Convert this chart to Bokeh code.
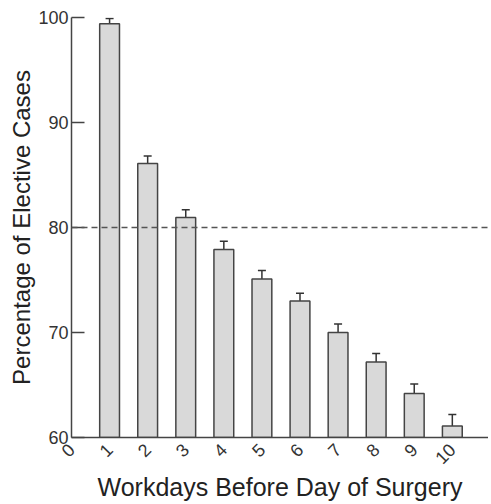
from bokeh.plotting import figure
from bokeh.models import ColumnDataSource, Range1d, FixedTicker, Span, Whisker, TeeHead
from bokeh.embed import file_html
from bokeh.resources import INLINE
import math

days = [1, 2, 3, 4, 5, 6, 7, 8, 9, 10]
pct = [99.4, 86.1, 80.95, 77.9, 75.1, 73.0, 70.0, 67.2, 64.2, 61.1]
err = [0.5, 0.7, 0.75, 0.8, 0.8, 0.75, 0.8, 0.8, 0.9, 1.1]
threshold = 80
x_ticks = [0, 1, 2, 3, 4, 5, 6, 7, 8, 9, 10]
y_ticks = [60, 70, 80, 90, 100]

src = ColumnDataSource(dict(x=days, top=pct, upper=[p + e for p, e in zip(pct, err)]))

p = figure(width=488, height=503, output_backend="svg", toolbar_location=None,
           x_range=Range1d(0, 10.95), y_range=Range1d(60, 100),
           min_border_left=71, min_border_right=0, min_border_top=17, min_border_bottom=10)
p.outline_line_color = None
p.xgrid.visible = False
p.ygrid.visible = False

p.vbar(x="x", top="top", bottom=60, width=0.52, source=src,
       fill_color="#d9d9d9", line_color="#444444", line_width=1.5)

w = Whisker(source=src, base="x", lower="top", upper="upper", dimension="height",
            line_color="#333333", line_width=1.5,
            upper_head=TeeHead(size=8, line_color="#333333", line_width=1.5), lower_head=None)
p.add_layout(w)

p.add_layout(Span(location=threshold, dimension="width", line_color="#555555",
                  line_width=1.5, line_dash="6 4"))

font = "Liberation Sans"
for ax in (p.xaxis[0], p.yaxis[0]):
    ax.axis_line_color = "#444444"
    ax.axis_line_width = 1.5
    ax.major_label_text_font = font
    ax.major_label_text_color = "#333333"
    ax.major_label_text_font_size = "18px"
    ax.axis_label_text_font = font
    ax.axis_label_text_font_style = "normal"
    ax.axis_label_text_color = "#222222"
    ax.minor_tick_line_color = None

p.yaxis.ticker = FixedTicker(ticks=y_ticks)
p.yaxis.major_tick_in = 13
p.yaxis.major_tick_out = 0
p.yaxis.major_tick_line_color = "#444444"
p.yaxis.major_tick_line_width = 1.5
p.yaxis.axis_label = "Percentage of Elective Cases"
p.yaxis.axis_label_text_font_size = "24px"
p.yaxis.axis_label_standoff = 0
p.yaxis.major_label_standoff = 3

p.xaxis.ticker = FixedTicker(ticks=x_ticks)
p.xaxis.major_tick_line_color = None
p.xaxis.major_tick_out = 0
p.xaxis.major_tick_in = 0
p.xaxis.major_label_orientation = math.pi / 4
p.xaxis.major_label_standoff = 9
p.xaxis.axis_label = "Workdays Before Day of Surgery"
p.xaxis.axis_label_text_font_size = "25px"
p.xaxis.axis_label_standoff = 0

open("out.html", "w").write(file_html(p, INLINE))
